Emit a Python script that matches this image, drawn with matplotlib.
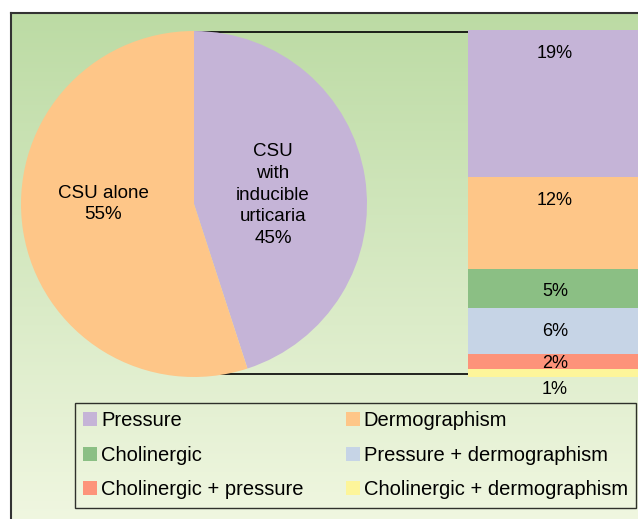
import numpy as np
import matplotlib
matplotlib.use("Agg")
import matplotlib.pyplot as plt
from matplotlib.patches import Patch
from matplotlib.colors import to_rgb

plt.rcParams['font.family'] = ['Liberation Sans', 'DejaVu Sans']

# ---- data ----
pie_labels = ["CSU\nwith\ninducible\nurticaria\n45%", "CSU alone\n55%"]
pie_values = [45, 55]
pie_colors = ["#c5b4d7", "#fec688"]

bar_categories = ["Pressure", "Dermographism", "Cholinergic",
                  "Pressure + dermographism", "Cholinergic + pressure",
                  "Cholinergic + dermographism"]
bar_values = [19, 12, 5, 6, 2, 1]
bar_labels = ["19%", "12%", "5%", "6%", "2%", "1%"]
bar_colors = ["#c5b4d7", "#fec688", "#8bbf84", "#c6d4e6", "#fd937a", "#fdf59a"]

W, H = 638, 519
fig = plt.figure(figsize=(W / 100, H / 100), dpi=100)


def px(x0, y0, x1, y1):
    return [x0 / W, 1 - y1 / H, (x1 - x0) / W, (y1 - y0) / H]


# ---- gradient background with frame ----
bg = fig.add_axes(px(10.5, 12.5, 700, 620))
top_c = np.array(to_rgb("#bcdba4"))
bot_c = np.array(to_rgb("#fafcec"))
t = np.linspace(0, 1, 256)[:, None]
grad = (top_c[None, :] * (1 - t) + bot_c[None, :] * t)[:, None, :]
bg.imshow(grad, aspect='auto', extent=[0, 1, 0, 1], origin='upper')
bg.set_xlim(0, 1)
bg.set_ylim(0, 1)
bg.set_xticks([])
bg.set_yticks([])
for s in ['right', 'bottom']:
    bg.spines[s].set_visible(False)
for s in ['left', 'top']:
    bg.spines[s].set_color('#333333')
    bg.spines[s].set_linewidth(1.5)

# ---- connector lines (behind pie) ----
ov = fig.add_axes([0, 0, 1, 1])
ov.set_xlim(0, W)
ov.set_ylim(H, 0)
ov.axis('off')
ov.patch.set_alpha(0)
ov.plot([194, 468], [32, 32], color='black', lw=1.2)
ov.plot([194, 468], [374, 374], color='black', lw=1.2)

# ---- pie ----
pax = fig.add_axes(px(21, 31, 367, 377))
pax.pie(pie_values, colors=pie_colors, startangle=90, counterclock=False,
        radius=1, wedgeprops=dict(linewidth=0))
pax.set_xlim(-1, 1)
pax.set_ylim(-1, 1)
pax.text(0.457, 0.052, pie_labels[0], ha='center', va='center',
         fontsize=13.5, linespacing=1.37)
pax.text(-0.526, 0.0, pie_labels[1], ha='center', va='center',
         fontsize=13.5, linespacing=1.37)

# ---- stacked bar ----
bax = fig.add_axes(px(468, 30, 700, 377))
bax.axis('off')
bax.set_xlim(0, 1)
bax.set_ylim(0, sum(bar_values))
tops = []
cum = sum(bar_values)
for v, c in zip(bar_values, bar_colors):
    bax.bar(0, v, bottom=cum - v, width=1, align='edge', color=c, linewidth=0)
    tops.append(cum)
    cum -= v
offsets_px = [24, 24, 22, 24, 10, 20]
for top, lab, off in zip(tops, bar_labels, offsets_px):
    bax.annotate(lab, xy=(0.375, top), xytext=(0, -off * 0.72),
                 textcoords='offset points', ha='center', va='center',
                 fontsize=13, annotation_clip=False)

# ---- legend ----
handles = [Patch(facecolor=c, edgecolor='none') for c in bar_colors]
order = [0, 2, 4, 1, 3, 5]
x0, x1, y0, y1 = 75, 636, 403, 507
leg = fig.legend([handles[i] for i in order], [bar_categories[i] for i in order],
                 ncol=2, loc='upper left', mode='expand',
                 bbox_to_anchor=(x0 / W, 1 - y1 / H, (x1 - x0) / W, (y1 - y0) / H),
                 frameon=True, fancybox=False, fontsize=14.5,
                 handlelength=0.7, handleheight=0.7, handletextpad=0.2,
                 labelspacing=0.78, borderpad=0.4,
                 borderaxespad=0)
leg.get_frame().set_edgecolor('black')
leg.get_frame().set_linewidth(1.0)
leg.get_frame().set_facecolor('none')

fig.savefig("out.png", dpi=100)
